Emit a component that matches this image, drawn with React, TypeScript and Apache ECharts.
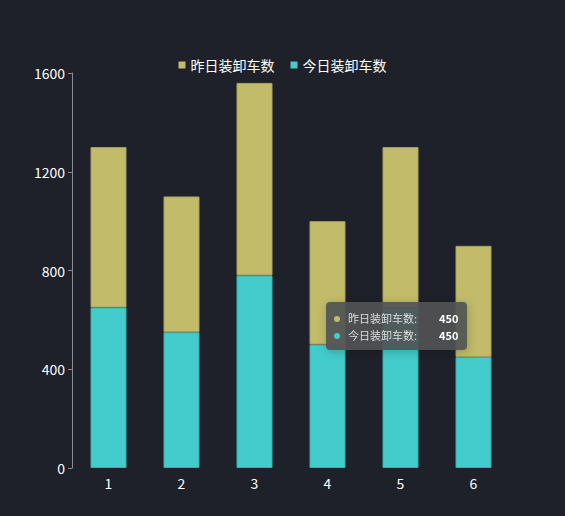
import { useEffect, useRef } from "react";
import * as echarts from "echarts";

const categories = ["1", "2", "3", "4", "5", "6"];
const yesterdayName = "昨日装卸车数";
const todayName = "今日装卸车数";
const yesterdayValues = [650, 550, 780, 500, 650, 450];
const todayValues = [650, 550, 780, 500, 650, 450];
const yTicks = [0, 400, 800, 1200, 1600];

const yellow = "#c1bb6a";
const cyan = "#44cbcc";

function App() {
  const chartRef = useRef(null);

  useEffect(() => {
    document.body.style.margin = "0";
    document.body.style.background = "#1e2129";
    const chart = echarts.init(chartRef.current, null, { renderer: "svg" });

    const option = {
      animation: false,
      backgroundColor: "#1e2129",
      textStyle: { fontFamily: "'Noto Sans CJK SC', sans-serif" },
      legend: {
        data: [yesterdayName, todayName],
        top: 53,
        left: "center",
        itemWidth: 7,
        itemHeight: 7,
        itemGap: 16,
        icon: "rect",
        itemStyle: { borderWidth: 0 },
        textStyle: { color: "#ffffff", fontSize: 14 },
      },
      tooltip: {
        trigger: "axis",
        triggerOn: "none",
        alwaysShowContent: true,
        axisPointer: { type: "none" },
        position: [326, 302],
        backgroundColor: "rgba(80,82,84,0.92)",
        borderWidth: 0,
        borderRadius: 4,
        padding: [8, 8, 6, 8],
        textStyle: { color: "#dddddd", fontSize: 11 },
        formatter: (params: any[]) => {
          const order = [yesterdayName, todayName];
          const rows = order
            .map((n) => params.find((p) => p.seriesName === n))
            .filter(Boolean)
            .map(
              (p) =>
                `<div style="display:flex;align-items:center;line-height:17px">` +
                `<span style="display:inline-block;width:6px;height:6px;border-radius:50%;background:${p.color};margin-right:8px"></span>` +
                `<span style="color:#dddddd">${p.seriesName}:</span>` +
                `<span style="margin-left:22px;font-weight:bold;color:#ffffff">${p.value}</span>` +
                `</div>`
            );
          return rows.join("");
        },
      },
      grid: { left: 72, right: 55, top: 73, bottom: 48 },
      xAxis: {
        type: "category",
        data: categories,
        axisLine: { show: false },
        axisTick: { show: false },
        axisLabel: { color: "#ffffff", fontSize: 14, margin: 8 },
      },
      yAxis: {
        type: "value",
        min: yTicks[0],
        max: yTicks[yTicks.length - 1],
        interval: 400,
        splitLine: { show: false },
        axisLine: { show: true, lineStyle: { color: "#8a8d93" } },
        axisTick: { show: true, length: 4, lineStyle: { color: "#8a8d93" } },
        axisLabel: {
          color: "#ffffff",
          fontSize: 14,
          margin: 7,
          formatter: (v: number) => String(v),
        },
      },
      series: [
        {
          name: todayName,
          type: "bar",
          stack: "total",
          barWidth: 36,
          data: todayValues,
          emphasis: { disabled: true },
          itemStyle: { color: cyan, borderColor: "#3aaeb0", borderWidth: 1 },
        },
        {
          name: yesterdayName,
          type: "bar",
          stack: "total",
          barWidth: 36,
          data: yesterdayValues,
          emphasis: { disabled: true },
          itemStyle: { color: yellow, borderColor: "#a6a25c", borderWidth: 1 },
        },
      ],
    };

    chart.setOption(option);
    chart.dispatchAction({ type: "showTip", seriesIndex: 0, dataIndex: 5 });

    return () => {
      chart.dispose();
    };
  }, []);

  return <div ref={chartRef} style={{ width: "565px", height: "516px" }}></div>;
}

export default App;
